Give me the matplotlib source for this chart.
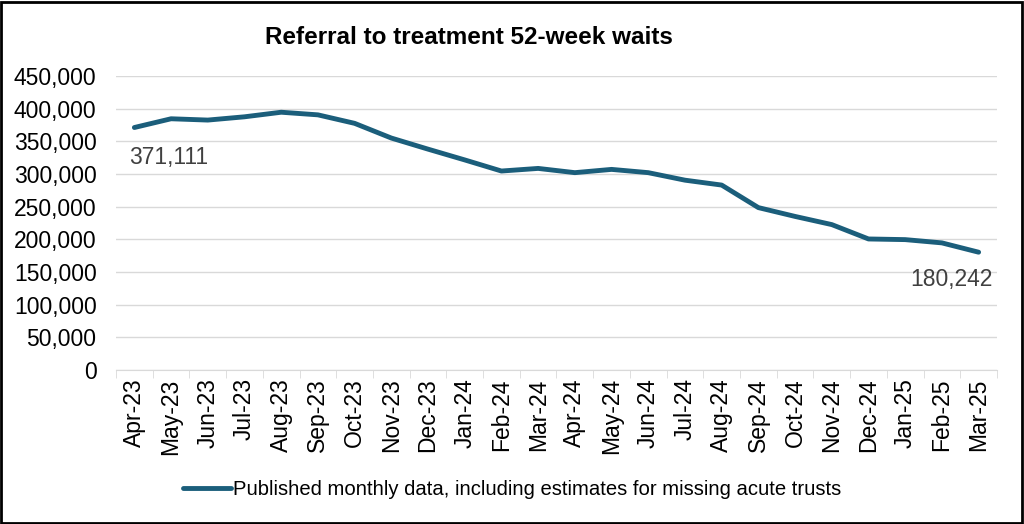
import matplotlib.pyplot as plt
from matplotlib.patches import Rectangle
import numpy as np

months = ["Apr-23", "May-23", "Jun-23", "Jul-23", "Aug-23", "Sep-23", "Oct-23",
          "Nov-23", "Dec-23", "Jan-24", "Feb-24", "Mar-24", "Apr-24", "May-24",
          "Jun-24", "Jul-24", "Aug-24", "Sep-24", "Oct-24", "Nov-24", "Dec-24",
          "Jan-25", "Feb-25", "Mar-25"]
waits = [371111, 384500, 382500, 387500, 394500, 390500, 377500, 355000, 338000,
         321500, 304500, 308500, 302000, 307000, 302000, 290500, 283000, 248500,
         235000, 222500, 200500, 199500, 194500, 180242]
series_label = "Published monthly data, including estimates for missing acute trusts"
line_color = "#1b5e7b"

plt.rcParams["font.family"] = ["Liberation Sans", "DejaVu Sans"]

fig = plt.figure(figsize=(10.24, 5.24), dpi=100)
ax = fig.add_axes([0.1133, 0.294, 0.8603, 0.561])

x = np.arange(len(months))
ax.plot(x, waits, color=line_color, linewidth=3.5, solid_capstyle="round",
        label=series_label)

ax.set_xlim(-0.5, len(months) - 0.5)
ax.set_ylim(0, 450000)
ax.set_yticks(np.arange(0, 450001, 50000))
ax.set_yticklabels([f"{v:,}" for v in range(0, 450001, 50000)], fontsize=16.5)
ax.set_xticks(x)
ax.set_xticklabels(months, rotation=90, fontsize=16.5)
ax.set_xticks(np.arange(-0.5, len(months), 1), minor=True)
ax.tick_params(axis="x", which="major", length=0, pad=6)
ax.tick_params(axis="x", which="minor", length=6, color="#d9d9d9")
ax.tick_params(axis="y", length=0, pad=14)

ax.grid(axis="y", color="#d9d9d9", linewidth=1)
ax.set_axisbelow(True)
for side in ["left", "right", "top"]:
    ax.spines[side].set_visible(False)
ax.spines["bottom"].set_color("#d9d9d9")

ax.annotate(f"{waits[0]:,}", (x[0], waits[0]), xytext=(-4, -26),
            textcoords="offset points", fontsize=16.5, color="#404040", ha="left")
ax.annotate(f"{waits[-1]:,}", (x[-1], waits[-1]), xytext=(10, -24),
            textcoords="offset points", fontsize=16.5, color="#404040", ha="right")

fig.text(0.458, 0.929, "Referral to treatment 52-week waits", ha="center", va="center",
         fontsize=17.5, fontweight="bold")

fig.legend(loc="center", bbox_to_anchor=(0.5, 0.065), frameon=False, fontsize=14.6,
           handlelength=2.4, handletextpad=0.1)

fig.patches.append(Rectangle((0.001, 0.002), 0.997, 0.995, transform=fig.transFigure,
                             fill=False, edgecolor="black", linewidth=2))

fig.savefig("out.png", dpi=100)
